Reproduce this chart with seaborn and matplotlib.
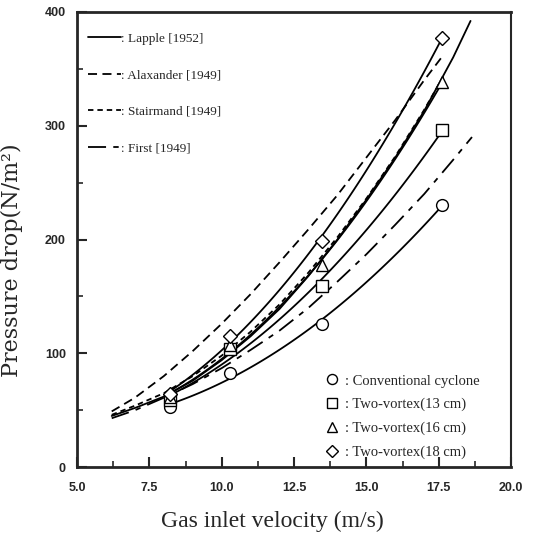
import numpy as np
import pandas as pd
import matplotlib
matplotlib.use("Agg")
import matplotlib.pyplot as plt
import seaborn as sns
from matplotlib.ticker import MultipleLocator, FormatStrFormatter

# Correlation curves
lapple_v = [6.2, 7, 8, 9, 10, 11, 12, 13, 14, 15, 16, 17, 18, 18.6]
lapple_dp = [45, 52, 62, 76, 94, 115, 139, 168, 200, 235, 272, 313, 360, 392]

alex_v = [6.2, 7, 8, 9, 10, 11, 12, 13, 14, 15, 16, 17, 17.6]
alex_dp = [49, 61, 80, 102, 126, 152, 180, 209, 239, 272, 305, 340, 360]

stair_v = [6.2, 7, 8, 9, 10, 11, 12, 13, 14, 15, 16, 17, 17.7]
stair_dp = [46, 54, 65, 80, 98, 119, 143, 171, 202, 236, 273, 314, 345]

first_v = [6.2, 7, 8, 9, 10, 11, 12, 13, 14, 15, 16, 17, 18, 18.65]
first_dp = [43, 50, 61, 73, 87, 103, 120, 140, 163, 187, 213, 240, 270, 290]

# Measured pressure drops
velocity = [8.2, 10.3, 13.45, 17.6]
conventional = [53, 83, 126, 230]
vortex_13 = [59, 104, 159, 296]
vortex_16 = [62, 107, 178, 338]
vortex_18 = [64, 115, 199, 377]

sns.set_style("ticks")
plt.rcParams['font.family'] = ['Liberation Serif', 'DejaVu Serif']

fig = plt.figure(figsize=(5.46, 5.37), dpi=100)
ax = fig.add_axes([0.141, 0.130, 0.795, 0.848])

lw = 1.3
curve_lines = []
for v, dp, dash, name in [
    (lapple_v, lapple_dp, None, ': Lapple [1952]'),
    (alex_v, alex_dp, (5, 3), ': Alaxander [1949]'),
    (stair_v, stair_dp, (3, 2.2), ': Stairmand [1949]'),
    (first_v, first_dp, (10, 4, 3, 4), ': First [1949]'),
]:
    sns.lineplot(x=v, y=dp, ax=ax, color='black', lw=lw)
    line = ax.lines[-1]
    if dash is not None:
        line.set_dashes(dash)
    line.set_label(name)
    curve_lines.append(line)

# Experimental data with quadratic fit lines
exp_handles = []
for dp, mk, ms, name in [
    (conventional, 'o', 8.5, ': Conventional cyclone'),
    (vortex_13, 's', 8, ': Two-vortex(13 cm)'),
    (vortex_16, '^', 9, ': Two-vortex(16 cm)'),
    (vortex_18, 'D', 7, ': Two-vortex(18 cm)'),
]:
    df = pd.DataFrame({'v': velocity, 'dp': dp})
    sns.regplot(data=df, x='v', y='dp', order=2, ci=None, scatter=False,
                truncate=True, ax=ax, line_kws=dict(color='black', lw=lw))
    h, = ax.plot(velocity, dp, linestyle='none', marker=mk, ms=ms,
                 mfc='white', mec='black', mew=1.0, zorder=5, label=name)
    exp_handles.append(h)

ax.set_xlim(5, 20)
ax.set_ylim(0, 400)
ax.xaxis.set_major_locator(MultipleLocator(2.5))
ax.xaxis.set_minor_locator(MultipleLocator(1.25))
ax.yaxis.set_major_locator(MultipleLocator(100))
ax.yaxis.set_minor_locator(MultipleLocator(50))
ax.xaxis.set_major_formatter(FormatStrFormatter('%.1f'))
ax.tick_params(which='major', direction='in', length=7, width=1.5)
ax.tick_params(which='minor', direction='in', length=4, width=1.2)
ax.tick_params(axis='x', which='major', pad=11)
ax.tick_params(axis='y', which='major', pad=8)
for lab in ax.get_xticklabels() + ax.get_yticklabels():
    lab.set_family(['Liberation Sans Narrow', 'Liberation Sans'])
    lab.set_fontweight('bold')
    lab.set_fontsize(9)

for side in ['left', 'bottom', 'top']:
    ax.spines[side].set_linewidth(2)
ax.spines['right'].set_linewidth(1.5)

ax.set_xlabel('Gas inlet velocity (m/s)', fontsize=17)
ax.xaxis.set_label_coords(0.449, -0.095)
ax.set_ylabel('Pressure drop(N/m²)', fontsize=16,
              family=['DejaVu Serif'])
ax.yaxis.set_label_coords(-0.125, 0.455)

leg1 = ax.legend(handles=curve_lines, loc='upper left', frameon=False,
                 fontsize=9.5, handlelength=2.5, handletextpad=0.05,
                 labelspacing=1.84, borderaxespad=0.4,
                 bbox_to_anchor=(0.0, 0.978))
ax.add_artist(leg1)
ax.legend(handles=exp_handles, loc='lower right', frameon=False,
          fontsize=10.5, handlelength=0.8, handletextpad=0.5,
          labelspacing=0.71, borderaxespad=0.5, markerscale=0.85,
          bbox_to_anchor=(0.958, -0.011))

fig.savefig('out.png', dpi=100)
